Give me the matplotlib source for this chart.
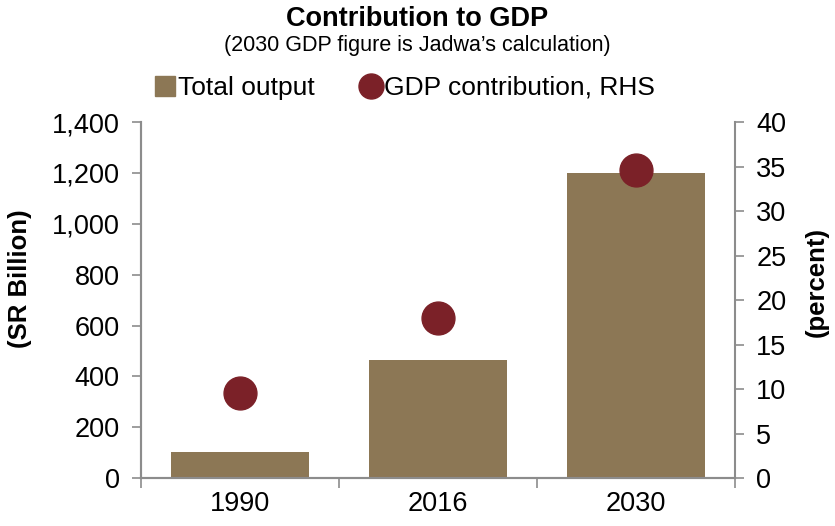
import numpy as np
import matplotlib
matplotlib.use("Agg")
import matplotlib.pyplot as plt
from matplotlib.lines import Line2D
from matplotlib.ticker import FuncFormatter

plt.rcParams['font.family'] = ['Liberation Sans', 'DejaVu Sans']

# donnees
annees = ['1990', '2016', '2030']
production_totale = [102, 464, 1200]      # SR Billion
contribution_pib = [9.6, 18.0, 34.6]      # percent, RHS

couleur_barre = '#8C7755'
couleur_point = '#7B2128'
gris = '#8C8C8C'

fig = plt.figure(figsize=(8.35, 5.26), dpi=100)
ax = fig.add_axes([0.169, 0.091, 0.711, 0.677])
ax2 = ax.twinx()

x = np.arange(len(annees))
ax.bar(x, production_totale, width=0.7, color=couleur_barre, zorder=2)
ax2.scatter(x, contribution_pib, s=560, color=couleur_point, zorder=3)

ax.set_xlim(-0.5, 2.5)
ax.set_ylim(0, 1400)
ax2.set_ylim(0, 40)
ax.set_yticks(np.arange(0, 1401, 200))
ax2.set_yticks(np.arange(0, 41, 5))
ax.yaxis.set_major_formatter(FuncFormatter(lambda v, p: '{:,.0f}'.format(v)))

# ticks x aux limites des categories, labels au centre
ax.set_xticks([-0.5, 0.5, 1.5, 2.5])
ax.set_xticklabels([])
ax.set_xticks(x, minor=True)
ax.set_xticklabels(annees, minor=True)
ax.tick_params(axis='x', which='minor', length=0, pad=9, labelsize=19.5)
ax.tick_params(axis='x', which='major', length=7, color=gris, width=1.2, direction='out')

ax.tick_params(axis='y', length=6.5, color=gris, width=1.2, labelsize=19.5, pad=9)
ax2.tick_params(axis='y', length=6.5, color=gris, width=1.2, labelsize=19.5, pad=9)

for a in (ax, ax2):
    a.spines['top'].set_visible(False)
    for s in ('left', 'right', 'bottom'):
        a.spines[s].set_color(gris)
        a.spines[s].set_linewidth(1.5)
ax.spines['right'].set_visible(False)

ax.set_ylabel('(SR Billion)', fontsize=18.5, fontweight='bold')
ax.yaxis.set_label_coords(-0.183, 0.56)
ax2.set_ylabel('(percent)', fontsize=18.5, fontweight='bold')
ax2.yaxis.set_label_coords(1.117, 0.55)

fig.text(0.5, 0.963, 'Contribution to GDP', ha='center', va='center', fontsize=19.5, fontweight='bold')
fig.text(0.5, 0.913, '(2030 GDP figure is Jadwa\u2019s calculation)', ha='center', va='center', fontsize=15.5)

handles = [Line2D([], [], marker='s', linestyle='none', markersize=14, color=couleur_barre),
           Line2D([], [], marker='o', linestyle='none', markersize=18, color=couleur_point)]
fig.legend(handles, ['Total output', 'GDP contribution, RHS'], loc='center', bbox_to_anchor=(0.483, 0.833),
           ncol=2, frameon=False, fontsize=19, handletextpad=0.0, columnspacing=1.6, handlelength=1.0)

fig.savefig('out.png', dpi=100)
